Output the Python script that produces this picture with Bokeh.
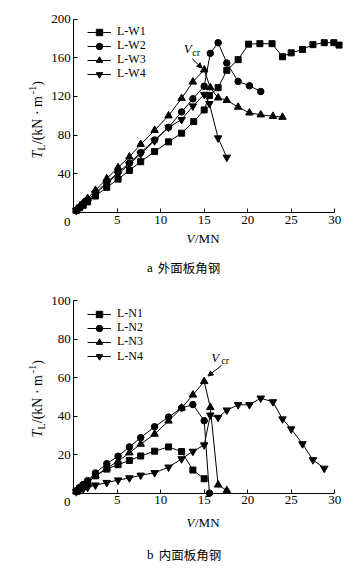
import math
from bokeh.plotting import figure
from bokeh.models import (Range1d, FixedTicker, Legend, LegendItem, Label, Arrow, NormalHead)
from bokeh.layouts import column
from bokeh.embed import file_html
from bokeh.resources import INLINE

# ---------------- data ----------------
x_ticks = [0, 5, 10, 15, 20, 25, 30]
top_y_ticks = [0, 40, 80, 120, 160, 200]
bot_y_ticks = [0, 20, 40, 60, 80, 100]

top_names = ["L-W1", "L-W2", "L-W3", "L-W4"]
bot_names = ["L-N1", "L-N2", "L-N3", "L-N4"]

W1_V = [0.3, 0.7, 1.1, 1.6, 2.5, 3.8, 5.1, 6.4, 7.7, 9.3, 10.9, 12.4, 13.8, 15.0, 15.6, 16.6, 17.6, 18.9, 20.1, 21.4, 22.8, 24.0, 25.0, 26.3, 27.5, 28.8, 29.9, 30.5]
W1_T = [2, 5, 7.5, 11, 17, 26, 34.5, 43.5, 52.5, 63, 73, 82, 94, 106, 121, 129, 147, 158, 174, 174.5, 174.5, 161, 165, 168.5, 173.5, 175.5, 175.5, 173]
W2_V = [0.3, 0.7, 1.1, 1.6, 2.5, 3.8, 5.1, 6.4, 7.7, 9.3, 10.9, 12.4, 13.7, 15.0, 15.7, 16.6, 17.6, 18.9, 20.2, 21.5]
W2_T = [2.5, 5.5, 9, 13, 20.5, 31, 41.5, 51, 62, 75, 88, 104, 117.5, 130.5, 164.5, 175.5, 154.5, 135.5, 131, 125]
W3_V = [0.3, 0.7, 1.1, 1.6, 2.5, 3.8, 5.1, 6.4, 7.7, 9.3, 10.9, 12.4, 13.7, 15.0, 15.7, 16.6, 17.6, 18.9, 20.2, 21.5, 22.9, 24.0]
W3_T = [2.5, 6.5, 10, 14.5, 23, 35, 46.5, 57.5, 70.5, 85, 100, 118, 135, 147.5, 129, 118.5, 116, 109, 103, 101, 99.5, 98.5]
W4_V = [0.3, 0.7, 1.1, 1.6, 2.5, 3.8, 5.1, 6.4, 7.7, 9.3, 10.9, 12.4, 13.7, 15.0, 15.6, 16.6, 17.6]
W4_T = [2, 5, 8.5, 12.5, 19.5, 30, 40, 50, 60.5, 74, 88, 96, 110, 122, 112.5, 77, 57]

N1_V = [0.3, 0.7, 1.1, 1.6, 2.5, 3.8, 5.1, 6.4, 7.7, 9.3, 10.9, 12.4, 13.7, 15.0]
N1_T = [1, 2.5, 4, 5.5, 9, 12.5, 14.8, 17, 19.3, 21.8, 24, 21.6, 12, 7.5]
N2_V = [0.3, 0.7, 1.1, 1.6, 2.5, 3.8, 5.1, 6.4, 7.7, 9.3, 10.9, 12.4, 13.7, 15.0, 15.6]
N2_T = [1.2, 3, 4.5, 6.5, 10.5, 15.3, 19.2, 24, 28.8, 34.5, 39.5, 44.2, 46, 37.6, 0]
N3_V = [0.3, 0.7, 1.1, 1.6, 2.5, 3.8, 5.1, 6.4, 7.7, 9.3, 10.9, 12.4, 13.7, 15.0, 15.7, 16.6, 17.6]
N3_T = [1, 2.5, 4, 5.5, 9, 13, 16.5, 21, 25.5, 30.7, 37.5, 44.2, 51, 58, 44.5, 4.3, 1.4]
N4_V = [0.3, 0.7, 1.1, 1.6, 2.5, 3.8, 5.1, 6.4, 7.7, 9.3, 10.9, 12.4, 13.7, 15.0, 15.7, 16.6, 17.6, 18.9, 20.2, 21.5, 22.9, 24.0, 25.0, 26.3, 27.5, 28.8]
N4_T = [0.7, 1.5, 2.3, 3.0, 4.2, 5.5, 6.8, 7.9, 9.3, 10.6, 13.5, 17.8, 21.7, 25, 40.5, 39.3, 43.1, 45.9, 45.9, 49.3, 47.4, 38.5, 33.3, 25.6, 17.3, 12.9]

markers = ["square", "circle", "triangle", "inverted_triangle"]
msizes = [6, 6.5, 7.5, 7.5]

SERIF = "Liberation Serif"
CJK = "Noto Sans CJK SC"
FS = "13px"
LEG_FS = "12px"

FIG_W = 345
OFF_X = 0   # page position of the layout (calibrated)
OFF_Y = 0
ROW_H = 16  # legend row box


def make_fig(fig_top, fig_h, x0px, ppx, y0px, ppy):
    xs = (OFF_X - x0px) / ppx
    xe = (OFF_X + FIG_W - x0px) / ppx
    ye = (y0px - fig_top) / ppy
    ys = (y0px - (fig_top + fig_h)) / ppy
    p = figure(width=FIG_W, height=fig_h, x_range=Range1d(xs, xe), y_range=Range1d(ys, ye),
               output_backend="svg", toolbar_location=None,
               min_border_left=0, min_border_right=0, min_border_top=0, min_border_bottom=0)
    p.outline_line_color = None
    p.xgrid.visible = False
    p.ygrid.visible = False
    for ax in (p.xaxis[0], p.yaxis[0]):
        ax.fixed_location = 0
        ax.axis_line_color = "black"
        ax.major_tick_line_color = "black"
        ax.major_tick_in = 4
        ax.major_tick_out = 0
        ax.minor_tick_line_color = None
        ax.major_label_text_font = SERIF
        ax.major_label_text_font_size = FS
        ax.major_label_text_color = "black"
        ax.major_label_standoff = 3

    def dx(px):
        return (px - x0px) / ppx

    def dy(py):
        return (y0px - py) / ppy
    return p, dx, dy


def add_series(p, Vs, Ts, names, fig_bottom, row_centers):
    for V, T, nm, mk, ms, c in zip(Vs, Ts, names, markers, msizes, row_centers):
        lr = p.line(V, T, line_color="black", line_width=1)
        sr = p.scatter(V, T, marker=mk, size=ms, fill_color="black", line_color="black")
        leg = Legend(items=[LegendItem(label=nm, renderers=[lr, sr])],
                     location=(87 - OFF_X, fig_bottom - (c + ROW_H / 2)),
                     glyph_width=24, glyph_height=ROW_H,
                     label_height=ROW_H, label_standoff=6, spacing=0, padding=0, margin=0,
                     border_line_alpha=0, background_fill_alpha=0,
                     label_text_font=SERIF, label_text_font_size=LEG_FS, label_text_color="black")
        p.add_layout(leg)


def add_text(p, x, y, text, font=SERIF, size=FS, style="normal", align="left", baseline="middle", angle=0.0):
    p.add_layout(Label(x=x, y=y, text=text, text_font=font, text_font_size=size,
                       text_font_style=style, text_align=align, text_baseline=baseline,
                       angle=angle, text_color="black"))


def add_ylabel(p, dx, dy, y_bottom):
    a = math.pi / 2
    y = y_bottom
    add_text(p, dx(36.5), dy(y), "T", size="14px", style="italic", angle=a)
    y -= 8.0
    add_text(p, dx(40.5), dy(y), "L", size="10px", angle=a)
    y -= 6.3
    add_text(p, dx(36.5), dy(y), "/(kN \u00b7 m", size="14px", angle=a)
    y -= 50.0
    add_text(p, dx(32.0), dy(y), "-1", size="10px", angle=a)
    y -= 8.5
    add_text(p, dx(36.5), dy(y), ")", size="14px", angle=a)


def add_xlabel_caption(p, dx, dy, y_tick, y_lab, y_cap, letter, cap, cap_x):
    add_text(p, dx(66.7), dy(y_tick), "0", align="center")
    add_text(p, dx(186), dy(y_lab), "V", style="italic")
    add_text(p, dx(194.5), dy(y_lab), "/MN")
    add_text(p, dx(146.5), dy(y_cap), letter)
    add_text(p, dx(cap_x), dy(y_cap), cap, font=CJK, size="12.5px")


def add_vcr(p, dx, dy, vx, vy, cx, cy, tail, head):
    add_text(p, dx(vx), dy(vy), "V", style="italic")
    add_text(p, dx(cx), dy(cy), "cr", size="10px")
    p.add_layout(Arrow(end=NormalHead(size=5, fill_color="black", line_color="black", line_width=1),
                       x_start=dx(tail[0]), y_start=dy(tail[1]), x_end=dx(head[0]), y_end=dy(head[1]),
                       line_color="black", line_width=1))


TOP_H = 280
BOT_H = 287

# ---------------- top panel ----------------
top, tdx, tdy = make_fig(OFF_Y, TOP_H, 73.2, 8.7, 212.0, 0.9675)
top.xaxis.ticker = FixedTicker(ticks=x_ticks)
top.yaxis.ticker = FixedTicker(ticks=top_y_ticks)
top.xaxis.bounds = (0, 30)
top.yaxis.bounds = (0, 200)
top.yaxis.major_label_overrides = {0: ""}
top.xaxis.major_label_overrides = {0: ""}
add_series(top, [W1_V, W2_V, W3_V, W4_V], [W1_T, W2_T, W3_T, W4_T], top_names,
           TOP_H, [31.7, 45.7, 59.7, 73.7])
add_ylabel(top, tdx, tdy, 158)
add_xlabel_caption(top, tdx, tdy, 221.7, 238.3, 267, "a", "外面板角钢", 157.3)
add_vcr(top, tdx, tdy, 183.3, 47.5, 191.7, 51.8, (191.7, 58.3), (201.5, 67.5))

# ---------------- bottom panel ----------------
bot, bdx, bdy = make_fig(OFF_Y + TOP_H, BOT_H, 73.2, 8.7, 492.7, 1.927)
bot.xaxis.ticker = FixedTicker(ticks=x_ticks)
bot.yaxis.ticker = FixedTicker(ticks=bot_y_ticks)
bot.xaxis.bounds = (0, 30)
bot.yaxis.bounds = (0, 100)
bot.yaxis.major_label_overrides = {0: ""}
bot.xaxis.major_label_overrides = {0: ""}
add_series(bot, [N1_V, N2_V, N3_V, N4_V], [N1_T, N2_T, N3_T, N4_T], bot_names,
           BOT_H, [313.5 - TOP_H, 327.7 - TOP_H, 341.9 - TOP_H, 356.1 - TOP_H])
add_ylabel(bot, bdx, bdy, 437)
add_xlabel_caption(bot, bdx, bdy, 501.5, 521.7, 554.3, "b", "内面板角钢", 158.3)
add_vcr(bot, bdx, bdy, 210.7, 356.7, 220.7, 360.0, (221, 365), (207.5, 375.5))

layout = column(top, bot, spacing=0)
open("out.html", "w").write(file_html(layout, INLINE))
